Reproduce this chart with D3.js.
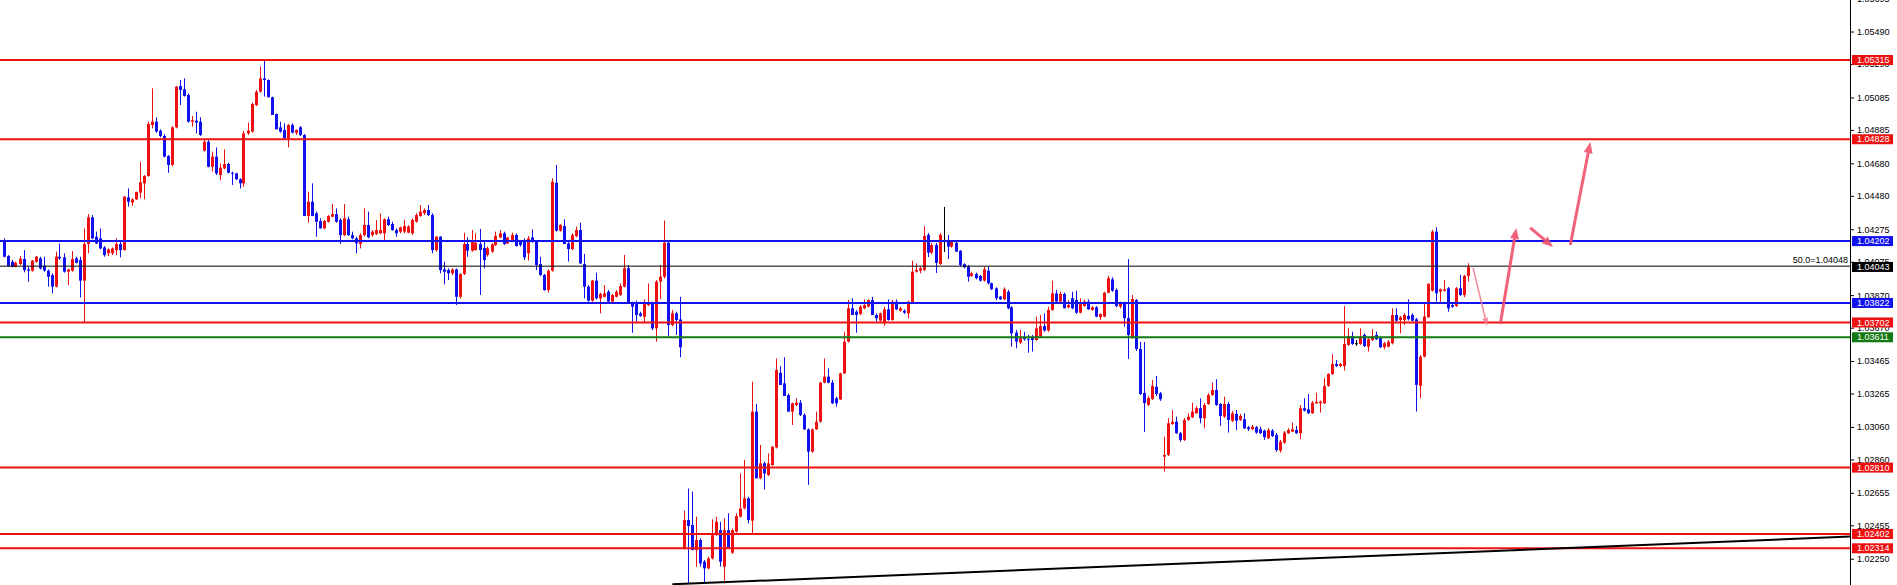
<!DOCTYPE html>
<html><head><meta charset="utf-8">
<script src="https://cdn.jsdelivr.net/npm/d3@7/dist/d3.min.js"></script>
<style>html,body{margin:0;padding:0;background:#fff;overflow:hidden}svg{display:block}</style>
</head><body><svg id="chart" width="1897" height="585"></svg>
<script>
// EURUSD H1 candles
const opens=[1.04198,1.04110,1.04075,1.04045,1.04061,1.04092,1.04028,1.04020,1.04075,1.04096,1.04051,1.04020,1.03993,1.03922,1.04106,1.04102,1.04014,1.04020,1.04096,1.04086,1.03959,1.04184,1.04348,1.04229,1.04219,1.04163,1.04127,1.04127,1.04147,1.04184,1.04147,1.04471,1.04438,1.04459,1.04500,1.04557,1.04602,1.04916,1.04936,1.04881,1.04848,1.04725,1.04670,1.04901,1.05155,1.05135,1.05100,1.04936,1.04942,1.04936,
1.04758,1.04813,1.04659,1.04721,1.04608,1.04649,1.04676,1.04622,1.04618,1.04582,1.04557,1.04864,1.04875,1.05038,1.05120,1.05202,1.05192,1.05086,1.04983,1.04901,1.04885,1.04834,1.04916,1.04868,1.04901,1.04854,1.04356,1.04444,1.04373,1.04325,1.04280,1.04321,1.04352,1.04368,1.04332,1.04239,1.04336,1.04239,1.04219,1.04184,1.04239,1.04301,1.04239,1.04245,1.04250,1.04250,1.04336,1.04307,1.04270,1.04260,
1.04260,1.04254,1.04250,1.04321,1.04356,1.04373,1.04393,1.04362,1.04147,1.04229,1.04028,1.04024,1.04004,1.04028,1.03860,1.04000,1.04184,1.04143,1.04147,1.04184,1.04160,1.04117,1.04137,1.04178,1.04225,1.04250,1.04188,1.04209,1.04240,1.04198,1.04209,1.04127,1.04225,1.04198,1.04061,1.03994,1.03901,1.04020,1.04561,1.04266,1.04295,1.04188,1.04153,1.04233,1.04270,1.04061,1.03922,1.03836,1.03959,1.03850,
1.03860,1.03891,1.03830,1.03860,1.03871,1.03922,1.04035,1.03819,1.03819,1.03758,1.03737,1.03809,1.03819,1.03666,1.03953,1.03983,1.04192,1.03686,1.03758,1.03721,1.02313,1.02488,1.02457,1.02303,1.02365,1.02232,1.02191,1.02252,1.02395,1.02426,1.02201,1.02426,1.02287,1.02416,1.02508,1.02560,1.02621,1.02484,1.03154,1.02744,1.02836,1.02764,1.02826,1.02934,1.03393,1.03328,1.03256,1.03154,1.03195,1.03209,
1.03133,1.03045,1.02908,1.03045,1.03092,1.03332,1.03369,1.03332,1.03236,1.03229,1.03389,1.03584,1.03789,1.03768,1.03754,1.03789,1.03799,1.03840,1.03748,1.03713,1.03697,1.03783,1.03717,1.03830,1.03774,1.03774,1.03758,1.03824,1.04014,1.04020,1.04025,1.04240,1.04131,1.04178,1.04061,1.04209,1.04205,1.04168,1.04192,1.04143,1.04060,1.04045,1.03988,1.04000,1.03988,1.03959,1.04020,1.03943,1.03912,1.03861,
1.03844,1.03891,1.03795,1.03639,1.03578,1.03611,1.03599,1.03615,1.03594,1.03615,1.03680,1.03652,1.03779,1.03881,1.03830,1.03877,1.03795,1.03851,1.03840,1.03762,1.03803,1.03830,1.03779,1.03795,1.03734,1.03738,1.03885,1.03967,1.03902,1.03799,1.03816,1.03729,1.03607,1.03840,1.03539,1.03269,1.03195,1.03232,1.03307,1.03267,1.02877,1.02888,1.03078,1.03092,1.03021,1.02980,1.03103,1.03119,1.03144,1.03175,
1.03113,1.03201,1.03256,1.03287,1.03201,1.03123,1.03201,1.03098,1.03140,1.03103,1.03107,1.03058,1.03046,1.03058,1.03046,1.03037,1.02990,1.03037,1.03011,1.02914,1.02963,1.03021,1.03031,1.03041,1.03021,1.03175,1.03168,1.03144,1.03205,1.03205,1.03205,1.03312,1.03385,1.03447,1.03434,1.03434,1.03564,1.03619,1.03574,1.03570,1.03625,1.03553,1.03594,1.03625,1.03605,1.03550,1.03553,1.03574,1.03748,1.03717,
1.03717,1.03742,1.03748,1.03722,1.03312,1.03492,1.03734,1.03897,1.04260,1.03891,1.03897,1.03912,1.03809,1.03803,1.03912,1.03871,1.03988];
const highs=[1.04219,1.04116,1.04086,1.04075,1.04110,1.04147,1.04045,1.04086,1.04110,1.04106,1.04106,1.04028,1.04004,1.04137,1.04188,1.04127,1.04032,1.04141,1.04106,1.04106,1.04280,1.04368,1.04362,1.04260,1.04280,1.04172,1.04157,1.04163,1.04219,1.04198,1.04479,1.04526,1.04465,1.04506,1.04690,1.04608,1.04936,1.05141,1.04963,1.04889,1.04860,1.04731,1.04909,1.05155,1.05192,1.05202,1.05110,1.04971,1.04997,1.04963,
1.04823,1.04827,1.04752,1.04778,1.04680,1.04766,1.04684,1.04629,1.04622,1.04588,1.04879,1.04930,1.05053,1.05131,1.05274,1.05311,1.05196,1.05090,1.04987,1.04936,1.04926,1.04922,1.04926,1.04889,1.04909,1.04860,1.04506,1.04557,1.04383,1.04342,1.04332,1.04362,1.04430,1.04403,1.04342,1.04430,1.04352,1.04260,1.04229,1.04250,1.04403,1.04383,1.04270,1.04332,1.04373,1.04342,1.04352,1.04321,1.04280,1.04291,
1.04332,1.04301,1.04342,1.04373,1.04424,1.04403,1.04424,1.04373,1.04233,1.04233,1.04075,1.04034,1.04034,1.04034,1.04004,1.04254,1.04225,1.04270,1.04250,1.04276,1.04200,1.04168,1.04188,1.04260,1.04270,1.04260,1.04225,1.04254,1.04250,1.04209,1.04219,1.04233,1.04274,1.04209,1.04106,1.04000,1.04028,1.04588,1.04670,1.04307,1.04336,1.04198,1.04250,1.04291,1.04315,1.04123,1.03932,1.03963,1.04008,1.03885,
1.03932,1.03901,1.03877,1.03901,1.03942,1.04117,1.04055,1.03829,1.03836,1.03768,1.03844,1.03942,1.03829,1.03963,1.04055,1.04328,1.04198,1.03779,1.03768,1.03860,1.02545,1.02682,1.02662,1.02508,1.02375,1.02242,1.02262,1.02492,1.02508,1.02477,1.02498,1.02529,1.02436,1.02529,1.02775,1.02857,1.02631,1.03338,1.03201,1.02949,1.02846,1.02897,1.02943,1.03481,1.03434,1.03488,1.03266,1.03209,1.03236,1.03225,
1.03143,1.03051,1.03051,1.03154,1.03338,1.03481,1.03420,1.03348,1.03246,1.03393,1.03645,1.03840,1.03850,1.03778,1.03809,1.03844,1.03844,1.03860,1.03758,1.03762,1.03799,1.03844,1.03840,1.03844,1.03799,1.03783,1.03836,1.04082,1.04065,1.04045,1.04295,1.04252,1.04191,1.04191,1.04252,1.04412,1.04240,1.04205,1.04209,1.04147,1.04066,1.04055,1.04014,1.04008,1.03994,1.04045,1.04045,1.03947,1.03918,1.03865,
1.03918,1.03902,1.03803,1.03656,1.03656,1.03645,1.03625,1.03625,1.03738,1.03748,1.03758,1.03799,1.03959,1.03902,1.03891,1.03885,1.03840,1.03891,1.03897,1.03851,1.03840,1.03844,1.03803,1.03803,1.03758,1.03891,1.03988,1.03980,1.03912,1.03830,1.03830,1.04092,1.03871,1.03846,1.03582,1.03582,1.03250,1.03349,1.03373,1.03275,1.03000,1.03113,1.03164,1.03123,1.03029,1.03115,1.03144,1.03209,1.03189,1.03236,
1.03207,1.03267,1.03332,1.03353,1.03207,1.03246,1.03213,1.03158,1.03164,1.03140,1.03144,1.03066,1.03072,1.03066,1.03062,1.03044,1.03052,1.03047,1.03023,1.02980,1.03035,1.03052,1.03086,1.03066,1.03195,1.03236,1.03262,1.03219,1.03270,1.03222,1.03359,1.03390,1.03508,1.03472,1.03453,1.03803,1.03666,1.03645,1.03594,1.03666,1.03635,1.03607,1.03660,1.03645,1.03613,1.03582,1.03594,1.03789,1.03789,1.03742,
1.03758,1.03844,1.03758,1.03730,1.03502,1.03820,1.03943,1.04270,1.04287,1.03911,1.03963,1.03920,1.03816,1.03920,1.03994,1.03994,1.04066];
const lows=[1.04102,1.04045,1.04041,1.04041,1.04055,1.04010,1.03952,1.04014,1.04069,1.04028,1.04014,1.03922,1.03881,1.03918,1.04086,1.04008,1.03932,1.04014,1.04065,1.03856,1.03700,1.04127,1.04213,1.04184,1.04151,1.04106,1.04110,1.04116,1.04116,1.04102,1.04143,1.04414,1.04418,1.04454,1.04465,1.04459,1.04598,1.04895,1.04868,1.04840,1.04717,1.04622,1.04663,1.04895,1.05038,1.05090,1.04930,1.04905,1.04864,1.04848,
1.04752,1.04655,1.04629,1.04608,1.04577,1.04643,1.04618,1.04547,1.04577,1.04526,1.04536,1.04854,1.04868,1.05032,1.05114,1.05090,1.05086,1.04977,1.04889,1.04868,1.04827,1.04778,1.04864,1.04854,1.04848,1.04356,1.04315,1.04356,1.04229,1.04280,1.04274,1.04315,1.04348,1.04315,1.04184,1.04233,1.04233,1.04213,1.04127,1.04157,1.04229,1.04219,1.04229,1.04239,1.04245,1.04209,1.04295,1.04266,1.04229,1.04250,
1.04250,1.04250,1.04239,1.04315,1.04352,1.04362,1.04356,1.04127,1.04137,1.04004,1.03936,1.03963,1.03993,1.03809,1.03850,1.03993,1.04106,1.04137,1.04143,1.03871,1.04034,1.04106,1.04131,1.04172,1.04219,1.04178,1.04184,1.04205,1.04168,1.04168,1.04086,1.04082,1.04192,1.04024,1.03987,1.03897,1.03885,1.04014,1.04260,1.04260,1.04184,1.04076,1.04147,1.04225,1.04061,1.03850,1.03829,1.03829,1.03844,1.03758,
1.03856,1.03824,1.03815,1.03856,1.03865,1.03918,1.03819,1.03639,1.03697,1.03737,1.03697,1.03803,1.03655,1.03584,1.03844,1.03973,1.03615,1.03680,1.03625,1.03488,1.02307,1.02098,1.02303,1.02201,1.02201,1.02098,1.02184,1.02246,1.02389,1.02201,1.02098,1.02313,1.02279,1.02410,1.02504,1.02553,1.02467,1.02406,1.02744,1.02738,1.02676,1.02758,1.02820,1.02928,1.03318,1.03250,1.03154,1.03072,1.03188,1.03127,
1.03041,1.02703,1.02901,1.03041,1.03086,1.03328,1.03328,1.03201,1.03184,1.03225,1.03385,1.03578,1.03748,1.03639,1.03748,1.03783,1.03795,1.03748,1.03707,1.03707,1.03680,1.03713,1.03713,1.03778,1.03768,1.03754,1.03727,1.03819,1.04008,1.04004,1.04018,1.04104,1.04123,1.04006,1.04055,1.04135,1.04092,1.04162,1.04137,1.04045,1.04035,1.03953,1.03983,1.03967,1.03953,1.03953,1.03935,1.03902,1.03840,1.03840,
1.03840,1.03783,1.03553,1.03543,1.03570,1.03590,1.03516,1.03523,1.03590,1.03611,1.03645,1.03645,1.03774,1.03830,1.03824,1.03789,1.03789,1.03783,1.03754,1.03758,1.03799,1.03779,1.03774,1.03734,1.03717,1.03734,1.03881,1.03891,1.03795,1.03789,1.03676,1.03478,1.03601,1.03527,1.03256,1.03029,1.03189,1.03226,1.03250,1.03220,1.02785,1.02881,1.03072,1.03017,1.02969,1.02974,1.03097,1.03115,1.03140,1.03082,
1.03052,1.03195,1.03250,1.03189,1.03066,1.03115,1.03025,1.03090,1.03041,1.03097,1.03047,1.03035,1.03041,1.03017,1.03017,1.02980,1.02986,1.02998,1.02908,1.02902,1.02955,1.03017,1.03029,1.03017,1.02984,1.03155,1.03140,1.03140,1.03201,1.03148,1.03201,1.03306,1.03379,1.03428,1.03428,1.03406,1.03558,1.03564,1.03558,1.03564,1.03550,1.03523,1.03588,1.03594,1.03545,1.03537,1.03548,1.03567,1.03707,1.03635,
1.03687,1.03714,1.03708,1.03154,1.03236,1.03487,1.03730,1.03892,1.03830,1.03830,1.03892,1.03768,1.03791,1.03797,1.03865,1.03857,1.03953];
const closes=[1.04106,1.04049,1.04045,1.04069,1.04094,1.04024,1.04020,1.04082,1.04106,1.04034,1.04020,1.03983,1.03922,1.04106,1.04096,1.04014,1.04028,1.04092,1.04069,1.03959,1.04184,1.04348,1.04219,1.04188,1.04157,1.04116,1.04151,1.04157,1.04184,1.04147,1.04475,1.04444,1.04459,1.04504,1.04563,1.04602,1.04922,1.04936,1.04875,1.04848,1.04721,1.04670,1.04901,1.05151,1.05131,1.05094,1.04936,1.04946,1.04930,1.04854,
1.04813,1.04659,1.04721,1.04618,1.04653,1.04676,1.04622,1.04618,1.04582,1.04557,1.04864,1.04881,1.05045,1.05120,1.05202,1.05192,1.05086,1.04977,1.04889,1.04875,1.04834,1.04916,1.04868,1.04885,1.04854,1.04356,1.04444,1.04356,1.04321,1.04280,1.04325,1.04356,1.04368,1.04321,1.04239,1.04342,1.04239,1.04219,1.04188,1.04239,1.04301,1.04225,1.04260,1.04270,1.04270,1.04336,1.04301,1.04270,1.04250,1.04286,
1.04295,1.04291,1.04332,1.04362,1.04383,1.04393,1.04362,1.04147,1.04229,1.04024,1.04014,1.04004,1.04028,1.03860,1.04000,1.04184,1.04143,1.04198,1.04192,1.04147,1.04086,1.04158,1.04182,1.04233,1.04250,1.04184,1.04225,1.04240,1.04172,1.04178,1.04102,1.04219,1.04198,1.04055,1.03994,1.03901,1.04020,1.04567,1.04266,1.04301,1.04184,1.04153,1.04240,1.04270,1.04065,1.03922,1.03836,1.03959,1.03850,1.03877,
1.03881,1.03830,1.03871,1.03891,1.03926,1.04035,1.03819,1.03799,1.03748,1.03742,1.03815,1.03819,1.03666,1.03953,1.03983,1.04192,1.03686,1.03758,1.03717,1.03549,1.02488,1.02451,1.02303,1.02365,1.02221,1.02191,1.02252,1.02395,1.02477,1.02232,1.02426,1.02313,1.02426,1.02512,1.02559,1.02621,1.02488,1.03154,1.02744,1.02836,1.02774,1.02836,1.02938,1.03410,1.03318,1.03250,1.03154,1.03205,1.03209,1.03133,
1.03045,1.02908,1.03045,1.03092,1.03332,1.03369,1.03332,1.03205,1.03205,1.03389,1.03584,1.03789,1.03748,1.03748,1.03799,1.03809,1.03840,1.03748,1.03727,1.03758,1.03782,1.03717,1.03830,1.03783,1.03789,1.03762,1.03830,1.04014,1.04024,1.04035,1.04234,1.04131,1.04178,1.04068,1.04240,1.04209,1.04168,1.04198,1.04137,1.04055,1.04041,1.03983,1.04004,1.03974,1.03959,1.04029,1.03943,1.03906,1.03851,1.03844,
1.03906,1.03789,1.03635,1.03584,1.03605,1.03599,1.03594,1.03594,1.03666,1.03680,1.03652,1.03779,1.03881,1.03830,1.03877,1.03789,1.03809,1.03789,1.03762,1.03820,1.03830,1.03783,1.03795,1.03738,1.03754,1.03885,1.03974,1.03897,1.03803,1.03816,1.03728,1.03625,1.03846,1.03539,1.03262,1.03207,1.03238,1.03312,1.03262,1.03230,1.02888,1.03082,1.03092,1.03021,1.02980,1.03103,1.03123,1.03154,1.03175,1.03113,
1.03195,1.03256,1.03287,1.03195,1.03127,1.03201,1.03103,1.03144,1.03098,1.03127,1.03052,1.03046,1.03062,1.03025,1.03021,1.02996,1.03041,1.03004,1.02918,1.02969,1.03025,1.03041,1.03046,1.03021,1.03175,1.03160,1.03144,1.03209,1.03215,1.03215,1.03312,1.03385,1.03447,1.03434,1.03447,1.03570,1.03619,1.03570,1.03574,1.03615,1.03558,1.03599,1.03619,1.03599,1.03550,1.03574,1.03584,1.03748,1.03713,1.03734,
1.03748,1.03722,1.03713,1.03318,1.03492,1.03738,1.03939,1.04260,1.03881,1.03906,1.03906,1.03789,1.03799,1.03912,1.03871,1.03988,1.04043];

// horizontal levels
const redLevels=[1.05315,1.04828,1.03702,1.02810,1.02402,1.02314];
const blueLevels=[1.04202,1.03822];
const greenLevels=[1.03611];
const fibLevel=1.04048;
const fibText="50.0=1.04048";
const bidPrice=1.04043;
// price axis tick labels
const tickValues=[1.05695,1.05490,1.05290,1.05085,1.04885,1.04680,1.04480,1.04275,1.04075,1.03870,1.03670,1.03465,1.03265,1.03060,1.02860,1.02655,1.02455,1.02250];
// trend line (bar index, price)
const trendBars=[167.2,461.6];
const trendPrices=[1.02093,1.02386];
// drawn arrows (bar index, price)
const arrowFromBar=[367.4,374.2,381.7,391.7];
const arrowFromPrice=[1.04037,1.03693,1.04283,1.04178];
const arrowToBar=[370.9,378.2,387.4,396.7];
const arrowToPrice=[1.03680,1.04283,1.04166,1.04811];

const W=1897,H=585,AX=1850;
const RED="#ee1111",BLUE="#1111ee",GREEN="#127a12",PINK="#f0506a";
const svg=d3.select("#chart");
svg.append("rect").attr("width",W).attr("height",H).attr("fill","#fff");
const x=d3.scaleLinear().domain([-0.875,461.625]).range([0,AX]);
const y=d3.scaleLinear().domain([1.02314,1.05315]).range([548.3,60]);
const plot=svg.append("g");
const idx=d3.range(closes.length);
const col=i=>closes[i]>opens[i]?RED:(closes[i]<opens[i]?BLUE:"#000");
// wicks
plot.append("g").selectAll("line").data(idx).join("line")
  .attr("x1",i=>Math.round(x(i))+0.5).attr("x2",i=>Math.round(x(i))+0.5)
  .attr("y1",i=>y(highs[i])).attr("y2",i=>y(lows[i]))
  .attr("stroke",col).attr("stroke-width",1);
// bodies
plot.append("g").selectAll("rect").data(idx).join("rect")
  .attr("x",i=>Math.round(x(i))-1).attr("width",3)
  .attr("y",i=>Math.min(y(opens[i]),y(closes[i])))
  .attr("height",i=>Math.max(1,Math.abs(y(opens[i])-y(closes[i]))))
  .attr("fill",col);
// level lines
const lv=svg.append("g");
function hline(p,c,w){lv.append("line").attr("x1",0).attr("x2",AX).attr("y1",y(p)).attr("y2",y(p)).attr("stroke",c).attr("stroke-width",w);}
redLevels.forEach(p=>hline(p,RED,2));
blueLevels.forEach(p=>hline(p,BLUE,2));
greenLevels.forEach(p=>hline(p,GREEN,2));
hline(fibLevel,"#000",1);
svg.append("text").attr("x",AX-2).attr("y",y(fibLevel)-3.5).attr("text-anchor","end")
  .attr("font-family","Liberation Sans, Arial, sans-serif").attr("font-size",9).attr("fill","#000").text(fibText);
// trend line
svg.append("line").attr("x1",x(trendBars[0])).attr("y1",y(trendPrices[0]))
  .attr("x2",x(trendBars[1])).attr("y2",y(trendPrices[1])).attr("stroke","#000").attr("stroke-width",2);
// arrows
const ag=svg.append("g");
arrowFromBar.forEach((b,k)=>{
  const x1=x(b),y1=y(arrowFromPrice[k]),x2=x(arrowToBar[k]),y2=y(arrowToPrice[k]);
  const thin=k===0;
  const c=thin?"#f37c8e":PINK, w=thin?1.5:3;
  const a=Math.atan2(y2-y1,x2-x1), L=thin?8:11, s=thin?3:4.5;
  const bx=x2-L*Math.cos(a), by=y2-L*Math.sin(a);
  ag.append("line").attr("x1",x1).attr("y1",y1).attr("x2",bx).attr("y2",by).attr("stroke",c).attr("stroke-width",w).attr("opacity",0.9);
  ag.append("path").attr("d",`M${x2},${y2}L${bx+s*Math.sin(a)},${by-s*Math.cos(a)}L${bx-s*Math.sin(a)},${by+s*Math.cos(a)}Z`).attr("fill",c).attr("opacity",0.9);
});
// axis
const axisG=svg.append("g").attr("transform",`translate(${AX},0)`);
const axis=d3.axisRight(y).tickValues(tickValues).tickSize(4).tickFormat(d3.format(".5f"));
axisG.call(axis);
axisG.select(".domain").attr("d",`M0.5,0V${H}`).attr("stroke","#000");
axisG.selectAll(".tick line").attr("stroke","#000").attr("x1",0);
axisG.selectAll(".tick text").attr("x",7).attr("font-family","Liberation Sans, Arial, sans-serif").attr("font-size",9).attr("fill","#000");
// level labels
const lab=svg.append("g");
function tag(p,c){
  const yy=y(p);
  lab.append("rect").attr("x",AX+2).attr("y",yy-5).attr("width",41).attr("height",10).attr("fill",c);
  lab.append("text").attr("x",AX+7).attr("y",yy).attr("dy","0.35em").attr("font-family","Liberation Sans, Arial, sans-serif")
    .attr("font-size",9).attr("fill","#fff").text(d3.format(".5f")(p));
}
redLevels.forEach(p=>tag(p,RED));
blueLevels.forEach(p=>tag(p,BLUE));
greenLevels.forEach(p=>tag(p,GREEN));
tag(bidPrice,"#000");
</script></body></html>
